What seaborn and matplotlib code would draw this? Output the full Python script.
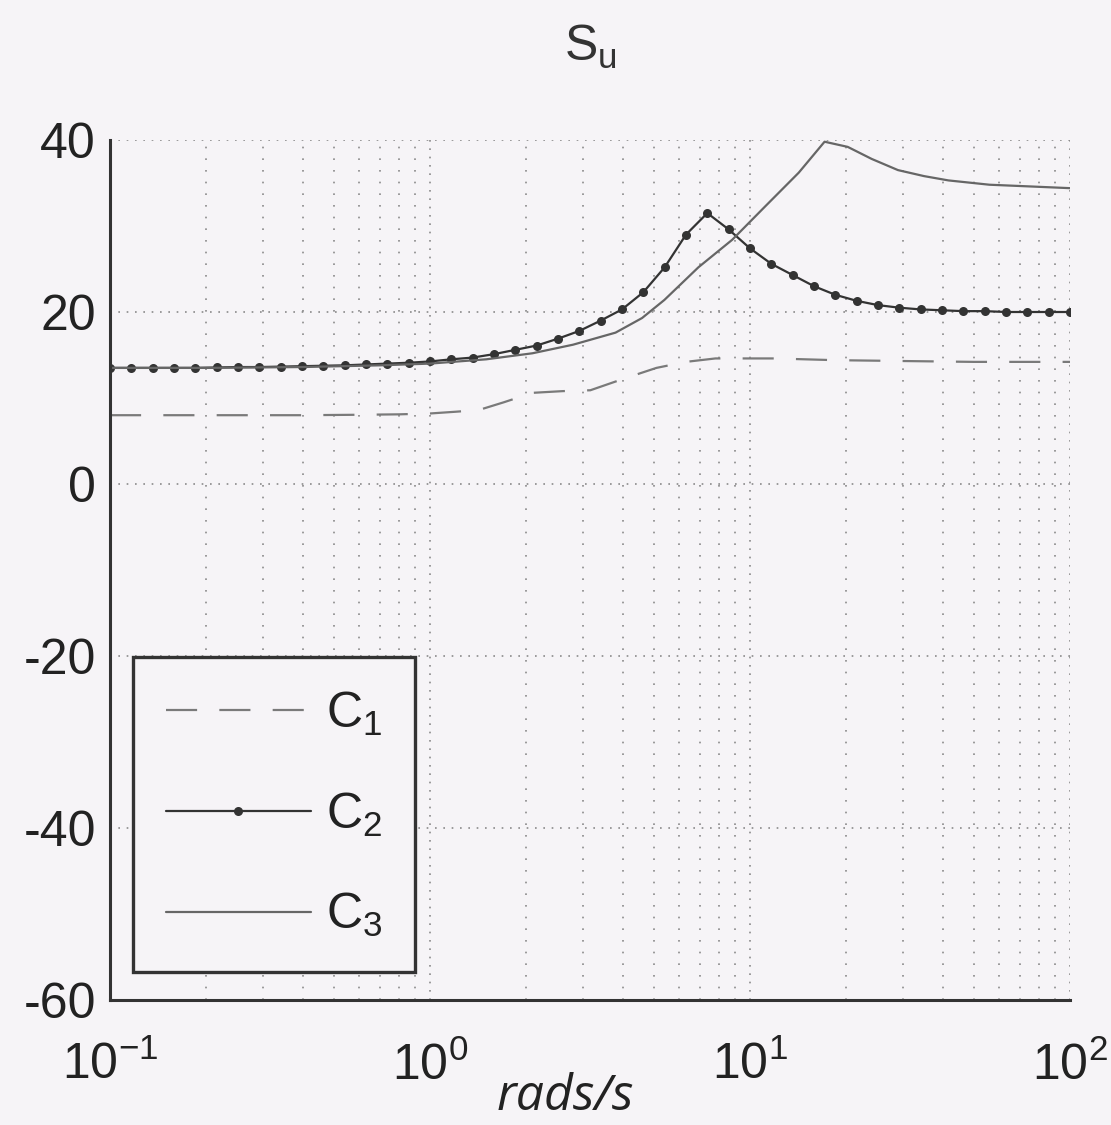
import numpy as np
import pandas as pd
import matplotlib
matplotlib.use("Agg")
import matplotlib.pyplot as plt
import seaborn as sns

# ---- data ----
c1_freq = [0.1, 0.2, 0.4, 0.6, 0.8, 1.0, 1.2, 1.42, 1.7, 2.09, 2.6, 3.17, 4.0, 5.1, 6.3, 7.8, 10.0, 11.9, 18.4, 30.0, 50.0, 100.0]
c1_db   = [8.0, 8.0, 8.0, 8.05, 8.1, 8.2, 8.4, 8.6, 9.5, 10.6, 10.8, 10.9, 12.2, 13.5, 14.2, 14.6, 14.6, 14.6, 14.4, 14.3, 14.2, 14.2]

c2_freq = [0.1, 0.1166, 0.1359, 0.1585, 0.1848, 0.2154, 0.2512, 0.2929, 0.3415, 0.3981,
           0.4642, 0.5412, 0.631, 0.7356, 0.8577, 1.0, 1.166, 1.359, 1.585, 1.848,
           2.154, 2.512, 2.929, 3.415, 3.981, 4.642, 5.412, 6.31, 7.356, 8.577,
           10.0, 11.66, 13.59, 15.85, 18.48, 21.54, 25.12, 29.29, 34.15, 39.81,
           46.42, 54.12, 63.1, 73.56, 85.77, 100.0]
c2_db   = [13.5, 13.5, 13.5, 13.5, 13.5, 13.55, 13.6, 13.6, 13.65, 13.7,
           13.75, 13.8, 13.9, 14.0, 14.1, 14.25, 14.5, 14.7, 15.1, 15.6,
           16.1, 16.9, 17.8, 19.0, 20.3, 22.3, 25.2, 29.0, 31.5, 29.6,
           27.4, 25.6, 24.3, 23.0, 22.0, 21.3, 20.8, 20.5, 20.3, 20.2,
           20.1, 20.1, 20.0, 20.0, 20.0, 20.0]

c3_freq = [0.1, 0.2, 0.4, 0.7, 1.0, 1.5, 2.09, 2.8, 3.8, 4.6, 5.4, 6.9, 8.8, 11.1, 14.2, 17.1, 20.2, 24.0, 29.0, 35.0, 41.7, 56.0, 75.0, 100.0]
c3_db   = [13.5, 13.5, 13.6, 13.8, 14.0, 14.5, 15.2, 16.2, 17.6, 19.3, 21.4, 25.2, 28.4, 32.2, 36.2, 39.8, 39.2, 37.8, 36.5, 35.8, 35.3, 34.8, 34.6, 34.4]

y_ticks = [-60, -40, -20, 0, 20, 40]
series_labels = [r"C$_1$", r"C$_2$", r"C$_3$"]

# ---- style ----
sns.set_theme(style="white")
bg = "#f6f4f7"
plt.rcParams["font.family"] = ["Liberation Sans", "DejaVu Sans"]
plt.rcParams["mathtext.fontset"] = "custom"
plt.rcParams["mathtext.rm"] = "Liberation Sans"
plt.rcParams["mathtext.it"] = "Liberation Sans"
plt.rcParams["mathtext.default"] = "regular"
plt.rcParams["axes.unicode_minus"] = False

fig = plt.figure(figsize=(11.11, 11.25), dpi=100, facecolor=bg)
ax = fig.add_axes([110/1111, 125/1125, 960/1111, 860/1125])
ax.set_facecolor(bg)

df1 = pd.DataFrame({"f": c1_freq, "db": c1_db})
df2 = pd.DataFrame({"f": c2_freq, "db": c2_db})
df3 = pd.DataFrame({"f": c3_freq, "db": c3_db})

sns.lineplot(data=df1, x="f", y="db", ax=ax, color="#7a7a7a", linewidth=1.6,
             dashes=False, linestyle=(0, (14, 10)), label=series_labels[0],
             estimator=None, sort=False)
sns.lineplot(data=df2, x="f", y="db", ax=ax, color="#333333", linewidth=1.6,
             marker="o", markersize=6.5, markeredgewidth=0, label=series_labels[1],
             estimator=None, sort=False)
sns.lineplot(data=df3, x="f", y="db", ax=ax, color="#666666", linewidth=1.6,
             label=series_labels[2], estimator=None, sort=False)

ax.set_xscale("log")
ax.set_xlim(0.1, 100)
ax.set_ylim(-60, 40)
ax.set_yticks(y_ticks)
ax.set_xticks([0.1, 1, 10, 100])
ax.set_xticklabels([r"10$^{-1}$", r"10$^{0}$", r"10$^{1}$", r"10$^{2}$"])
ax.set_xlabel("")
ax.set_ylabel("")

ax.grid(True, which="major", axis="both", color="#8a8a8a", linestyle=(0, (1, 4)), linewidth=1.2)
ax.grid(True, which="minor", axis="x", color="#8a8a8a", linestyle=(0, (1, 6)), linewidth=1.2)

for s in ["top", "right"]:
    ax.spines[s].set_visible(False)
for s in ["left", "bottom"]:
    ax.spines[s].set_color("#333333")
    ax.spines[s].set_linewidth(2.2)

ax.tick_params(axis="both", which="major", direction="in", length=6, width=1.2,
               colors="#333333", labelsize=36, labelcolor="#222222")
ax.tick_params(axis="x", which="major", pad=30)
ax.tick_params(axis="y", which="major", pad=10)
ax.tick_params(axis="x", which="minor", direction="in", length=4, width=1, colors="#555555")

leg = ax.legend(loc="lower left", bbox_to_anchor=(0.024, 0.033), borderaxespad=0,
                fontsize=36, frameon=True, fancybox=False, handlelength=2.9,
                handletextpad=0.3, labelspacing=1.05, borderpad=0.65, numpoints=1,
                facecolor=bg, edgecolor="#333333", framealpha=1)
leg.get_frame().set_linewidth(2.4)
for t in leg.get_texts():
    t.set_color("#222222")

fig.text(590/1111, 1 - 61/1125, r"S$_u$", ha="center", va="baseline",
         fontsize=36, color="#333333")
fig.text(565/1111, 3/1125, "rads/s", ha="center", va="bottom",
         fontsize=36, style="italic", family=["Open Sans", "DejaVu Sans"], color="#222222")

fig.savefig("out.png", dpi=100, facecolor=bg)
